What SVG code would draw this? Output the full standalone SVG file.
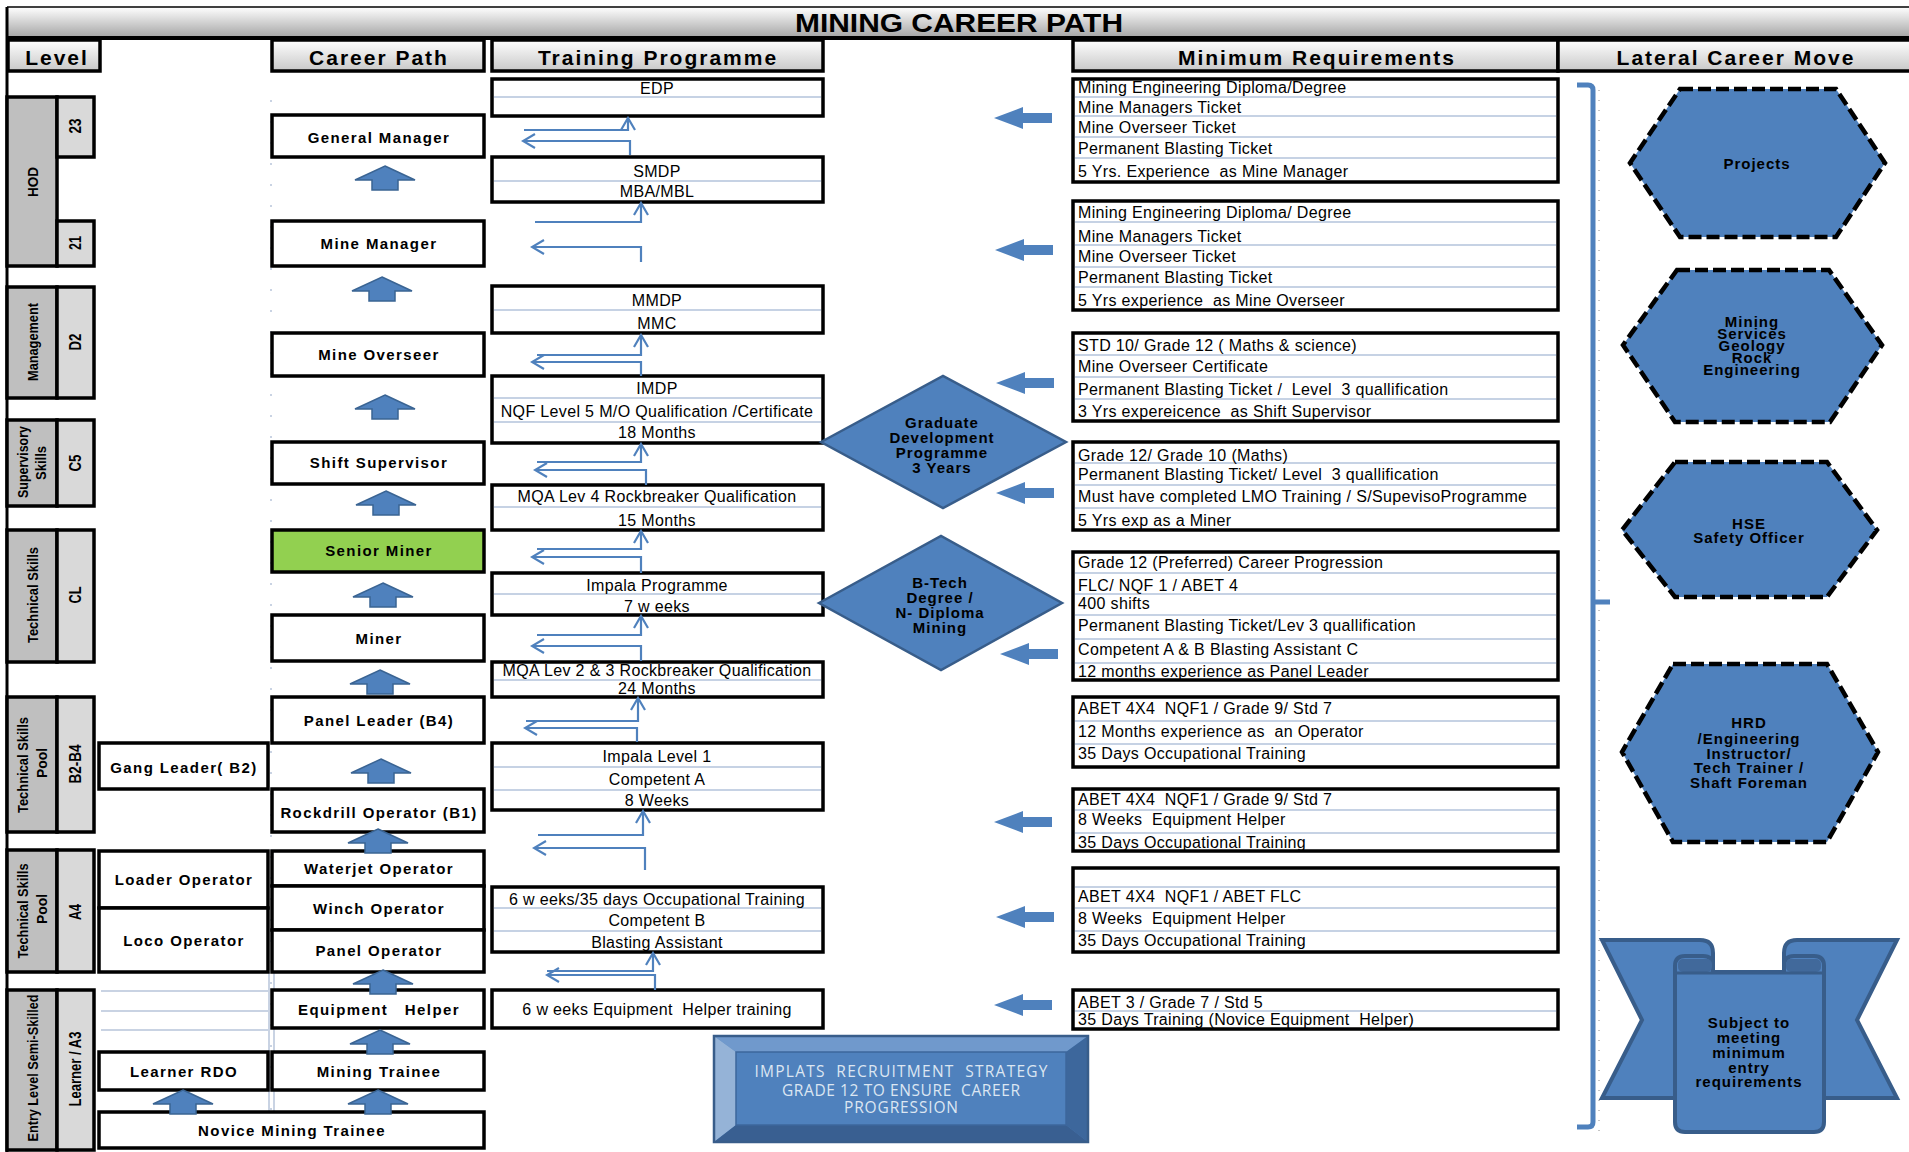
<svg xmlns="http://www.w3.org/2000/svg" width="1909" height="1152" viewBox="0 0 1909 1152">
<style>
.box{fill:#fff;stroke:#000;stroke-width:3.5}
.green{fill:#92d050;stroke:#000;stroke-width:3.5}
.lvl{fill:#bfbfbf;stroke:#000;stroke-width:3.5}
.num{fill:#d9d9d9;stroke:#000;stroke-width:3.5}
.hdr{fill:url(#gHead);stroke:#000;stroke-width:3.5}
.dv{stroke:#c6d2e4;stroke-width:2}
.grid{stroke:#c9d3e3;stroke-width:2;fill:none}
.t{font-family:"Liberation Sans",Arial,sans-serif;dominant-baseline:central}
.cp{font-weight:bold;font-size:15px;letter-spacing:1.4px;text-anchor:middle}
.tp{font-size:16px;letter-spacing:0.35px;text-anchor:middle}
.rq{font-size:16px;letter-spacing:0.35px;white-space:pre}
.hd{font-weight:bold;font-size:21px;letter-spacing:2px;text-anchor:middle}
.vt{font-family:"Liberation Sans",Arial,sans-serif;font-weight:bold;font-size:15px;text-anchor:middle;dominant-baseline:central}
.vn{font-size:16px}
.bl{fill:#4f81bd}
.ua{fill:#4f81bd;stroke:#3a6493;stroke-width:1.5}
.conn{fill:none;stroke:#4f81bd;stroke-width:2.2}
.hex{fill:#4f81bd;stroke:#000;stroke-width:4.5;stroke-dasharray:13 5}
.dia{fill:#4f81bd;stroke:#385d8a;stroke-width:2.5}
.bx{font-weight:bold;font-size:15px;letter-spacing:1px;text-anchor:middle;fill:#000}
.ban{fill:#4f81bd;stroke:#385d8a;stroke-width:4}
</style>
<defs>
<linearGradient id="gTitle" x1="0" y1="0" x2="0" y2="1"><stop offset="0" stop-color="#ffffff"/><stop offset="1" stop-color="#a3a3a3"/></linearGradient>
<linearGradient id="gHead" x1="0" y1="0" x2="0" y2="1"><stop offset="0" stop-color="#ffffff"/><stop offset="1" stop-color="#c8c8c8"/></linearGradient>
<marker id="chev" markerUnits="userSpaceOnUse" markerWidth="16" markerHeight="18" viewBox="0 0 16 18" refX="14" refY="9" orient="auto"><path d="M2,2 L14,9 L2,16" fill="none" stroke="#4f81bd" stroke-width="2.2"/></marker>
<path id="bla" d="M0,0 L29,-11 L29,-5 L58,-5 L58,5 L29,5 L29,11 Z"/>
<path id="upa" d="M0,0 L30,14 L13,14 L13,24 L-13,24 L-13,14 L-30,14 Z"/>
</defs>
<rect width="1909" height="1152" fill="#fff"/>

<!-- title & headers -->
<g id="title">
<rect x="7" y="7" width="1902" height="31" fill="url(#gTitle)"/>
<line x1="7" y1="7" x2="1909" y2="7" stroke="#000" stroke-width="1.5"/>
<line x1="7" y1="38" x2="1909" y2="38" stroke="#000" stroke-width="4"/>
<text class="t" x="959" y="23" font-weight="bold" font-size="25" text-anchor="middle" textLength="328" lengthAdjust="spacingAndGlyphs">MINING CAREER PATH</text>
</g>
<line x1="7" y1="7" x2="7" y2="1152" stroke="#000" stroke-width="3"/>
<g id="headers">
<rect class="hdr" x="8" y="40" width="92" height="31"/>
<text class="t hd" x="57" y="57">Level</text>
<rect class="hdr" x="272" y="40" width="212" height="31"/>
<text class="t hd" x="379" y="57">Career Path</text>
<rect class="hdr" x="492" y="40" width="331" height="31"/>
<text class="t hd" x="658" y="57">Training Programme</text>
<rect class="hdr" x="1073" y="40" width="485" height="31"/>
<text class="t hd" x="1317" y="57">Minimum Requirements</text>
<rect class="hdr" x="1558" y="40" width="353" height="31"/>
<text class="t hd" x="1736" y="57">Lateral Career Move</text>
</g>

<!-- faint grid remnants -->
<g id="gridlines">
<line class="grid" x1="271" y1="100" x2="271" y2="1110" stroke-width="6" stroke-dasharray="2 19"/>
<line class="grid" x1="101" y1="991" x2="270" y2="991"/>
<line class="grid" x1="101" y1="1011" x2="270" y2="1011"/>
<line class="grid" x1="101" y1="1030" x2="270" y2="1030"/>
<line class="grid" x1="269" y1="972" x2="269" y2="1112"/>
<line class="grid" x1="274" y1="972" x2="274" y2="1112"/>
<line x1="1599" y1="90" x2="1599" y2="1132" stroke="#8a8a8a" stroke-width="1" stroke-dasharray="1 9"/>
</g>

<!-- Level column -->
<g id="level-hod">
<rect class="lvl" x="7" y="97" width="50" height="169"/>
<rect class="num" x="57" y="97" width="37" height="60"/>
<rect class="num" x="57" y="221" width="37" height="45"/>
<text class="vt" transform="translate(32,182) rotate(-90)" textLength="30" lengthAdjust="spacingAndGlyphs">HOD</text>
<text class="vt vn" transform="translate(75,126) rotate(-90)" textLength="15" lengthAdjust="spacingAndGlyphs">23</text>
<text class="vt vn" transform="translate(75,243) rotate(-90)" textLength="14" lengthAdjust="spacingAndGlyphs">21</text>
</g>
<g id="level-management">
<rect class="lvl" x="7" y="287" width="50" height="111"/>
<rect class="num" x="57" y="287" width="37" height="111"/>
<text class="vt" transform="translate(32,342) rotate(-90)" textLength="78" lengthAdjust="spacingAndGlyphs">Management</text>
<text class="vt vn" transform="translate(75,342) rotate(-90)" textLength="17" lengthAdjust="spacingAndGlyphs">D2</text>
</g>
<g id="level-supervisory">
<rect class="lvl" x="7" y="420" width="50" height="86"/>
<rect class="num" x="57" y="420" width="37" height="86"/>
<text class="vt" transform="translate(22,462) rotate(-90)" textLength="72" lengthAdjust="spacingAndGlyphs">Supervisory</text>
<text class="vt" transform="translate(40,463) rotate(-90)" textLength="34" lengthAdjust="spacingAndGlyphs">Skills</text>
<text class="vt vn" transform="translate(75,463) rotate(-90)" textLength="17" lengthAdjust="spacingAndGlyphs">C5</text>
</g>
<g id="level-technical">
<rect class="lvl" x="7" y="530" width="50" height="132"/>
<rect class="num" x="57" y="530" width="37" height="132"/>
<text class="vt" transform="translate(32,595) rotate(-90)" textLength="96" lengthAdjust="spacingAndGlyphs">Technical Skills</text>
<text class="vt vn" transform="translate(75,595) rotate(-90)" textLength="17" lengthAdjust="spacingAndGlyphs">CL</text>
</g>
<g id="level-tsp-b">
<rect class="lvl" x="7" y="697" width="50" height="135"/>
<rect class="num" x="57" y="697" width="37" height="135"/>
<text class="vt" transform="translate(22,765) rotate(-90)" textLength="96" lengthAdjust="spacingAndGlyphs">Technical Skills</text>
<text class="vt" transform="translate(41,763) rotate(-90)" textLength="30" lengthAdjust="spacingAndGlyphs">Pool</text>
<text class="vt vn" transform="translate(75,764) rotate(-90)" textLength="39" lengthAdjust="spacingAndGlyphs">B2-B4</text>
</g>
<g id="level-tsp-a">
<rect class="lvl" x="7" y="850" width="50" height="122"/>
<rect class="num" x="57" y="850" width="37" height="122"/>
<text class="vt" transform="translate(22,911) rotate(-90)" textLength="95" lengthAdjust="spacingAndGlyphs">Technical Skills</text>
<text class="vt" transform="translate(41,909) rotate(-90)" textLength="30" lengthAdjust="spacingAndGlyphs">Pool</text>
<text class="vt vn" transform="translate(75,912) rotate(-90)" textLength="16" lengthAdjust="spacingAndGlyphs">A4</text>
</g>
<g id="level-entry">
<rect class="lvl" x="7" y="990" width="50" height="160"/>
<rect class="num" x="57" y="990" width="37" height="160"/>
<text class="vt" transform="translate(32,1068) rotate(-90)" textLength="147" lengthAdjust="spacingAndGlyphs">Entry Level Semi-Skilled</text>
<text class="vt vn" transform="translate(75,1069) rotate(-90)" textLength="75" lengthAdjust="spacingAndGlyphs">Learner / A3</text>
</g>

<!-- Career path nodes -->
<g id="cp-general-manager"><rect class="box" x="272" y="115" width="212" height="42"/><text class="t cp" x="379" y="137">General Manager</text></g>
<g id="cp-mine-manager"><rect class="box" x="272" y="221" width="212" height="45"/><text class="t cp" x="379" y="243">Mine Manager</text></g>
<g id="cp-mine-overseer"><rect class="box" x="272" y="333" width="212" height="43"/><text class="t cp" x="379" y="354">Mine Overseer</text></g>
<g id="cp-shift-supervisor"><rect class="box" x="272" y="442" width="212" height="42"/><text class="t cp" x="379" y="462">Shift Supervisor</text></g>
<g id="cp-senior-miner"><rect class="green" x="272" y="530" width="212" height="42"/><text class="t cp" x="379" y="550">Senior Miner</text></g>
<g id="cp-miner"><rect class="box" x="272" y="615" width="212" height="46"/><text class="t cp" x="379" y="638">Miner</text></g>
<g id="cp-panel-leader"><rect class="box" x="272" y="697" width="212" height="46"/><text class="t cp" x="379" y="720">Panel Leader (B4)</text></g>
<g id="cp-gang-leader"><rect class="box" x="99" y="743" width="169" height="46"/><text class="t cp" x="184" y="767">Gang Leader( B2)</text></g>
<g id="cp-rockdrill"><rect class="box" x="272" y="789" width="212" height="43"/><text class="t cp" x="379" y="812">Rockdrill Operator (B1)</text></g>
<g id="cp-waterjet"><rect class="box" x="272" y="851" width="212" height="35"/><text class="t cp" x="379" y="868">Waterjet Operator</text></g>
<g id="cp-winch"><rect class="box" x="272" y="886" width="212" height="44"/><text class="t cp" x="379" y="908">Winch Operator</text></g>
<g id="cp-panel-operator"><rect class="box" x="272" y="930" width="212" height="42"/><text class="t cp" x="379" y="950">Panel Operator</text></g>
<g id="cp-loader"><rect class="box" x="99" y="851" width="169" height="57"/><text class="t cp" x="184" y="879">Loader Operator</text></g>
<g id="cp-loco"><rect class="box" x="99" y="908" width="169" height="64"/><text class="t cp" x="184" y="940">Loco Operator</text></g>
<g id="cp-equipment-helper"><rect class="box" x="272" y="990" width="212" height="38"/><text class="t cp" x="379" y="1009" xml:space="preserve">Equipment   Helper</text></g>
<g id="cp-mining-trainee"><rect class="box" x="272" y="1052" width="212" height="38"/><text class="t cp" x="379" y="1071">Mining Trainee</text></g>
<g id="cp-learner-rdo"><rect class="box" x="99" y="1052" width="169" height="38"/><text class="t cp" x="184" y="1071">Learner RDO</text></g>
<g id="cp-novice"><rect class="box" x="99" y="1112" width="385" height="36"/><text class="t cp" x="292" y="1130">Novice Mining Trainee</text></g>

<!-- Training programme nodes -->
<g id="tp-edp"><rect class="box" x="492" y="79" width="331" height="37"/><line class="dv" x1="494" y1="97" x2="821" y2="97"/><text class="t tp" x="657" y="88">EDP</text></g>
<g id="tp-smdp"><rect class="box" x="492" y="157" width="331" height="45"/><line class="dv" x1="494" y1="181" x2="821" y2="181"/><text class="t tp" x="657" y="171">SMDP</text><text class="t tp" x="657" y="191">MBA/MBL</text></g>
<g id="tp-mmdp"><rect class="box" x="492" y="286" width="331" height="47"/><line class="dv" x1="494" y1="310" x2="821" y2="310"/><text class="t tp" x="657" y="300">MMDP</text><text class="t tp" x="657" y="323">MMC</text></g>
<g id="tp-imdp"><rect class="box" x="492" y="376" width="331" height="67"/><line class="dv" x1="494" y1="398" x2="821" y2="398"/><line class="dv" x1="494" y1="422" x2="821" y2="422"/><text class="t tp" x="657" y="388">IMDP</text><text class="t tp" x="657" y="411">NQF Level 5 M/O Qualification /Certificate</text><text class="t tp" x="657" y="432">18 Months</text></g>
<g id="tp-mqa4"><rect class="box" x="492" y="485" width="331" height="45"/><line class="dv" x1="494" y1="507" x2="821" y2="507"/><text class="t tp" x="657" y="496">MQA Lev 4 Rockbreaker Qualification</text><text class="t tp" x="657" y="520">15 Months</text></g>
<g id="tp-impala-programme"><rect class="box" x="492" y="573" width="331" height="42"/><line class="dv" x1="494" y1="594" x2="821" y2="594"/><text class="t tp" x="657" y="585">Impala Programme</text><text class="t tp" x="657" y="606">7 w eeks</text></g>
<g id="tp-mqa23"><rect class="box" x="492" y="662" width="331" height="35"/><line class="dv" x1="494" y1="680" x2="821" y2="680"/><text class="t tp" x="657" y="670">MQA Lev 2 &amp; 3 Rockbreaker Qualification</text><text class="t tp" x="657" y="688">24 Months</text></g>
<g id="tp-impala-l1"><rect class="box" x="492" y="743" width="331" height="67"/><line class="dv" x1="494" y1="767" x2="821" y2="767"/><line class="dv" x1="494" y1="790" x2="821" y2="790"/><text class="t tp" x="657" y="756">Impala Level 1</text><text class="t tp" x="657" y="779">Competent A</text><text class="t tp" x="657" y="800">8 Weeks</text></g>
<g id="tp-occupational"><rect class="box" x="492" y="887" width="331" height="65"/><line class="dv" x1="494" y1="908" x2="821" y2="908"/><line class="dv" x1="494" y1="931" x2="821" y2="931"/><text class="t tp" x="657" y="899">6 w eeks/35 days Occupational Training</text><text class="t tp" x="657" y="920">Competent B</text><text class="t tp" x="657" y="942">Blasting Assistant</text></g>
<g id="tp-eh-training"><rect class="box" x="492" y="990" width="331" height="38"/><text class="t tp" x="657" y="1009" xml:space="preserve">6 w eeks Equipment  Helper training</text></g>

<!-- Minimum requirement nodes -->
<g id="req-1" xml:space="preserve">
<rect class="box" x="1073" y="79" width="485" height="103"/>
<line class="dv" x1="1075" y1="97" x2="1556" y2="97"/><line class="dv" x1="1075" y1="116" x2="1556" y2="116"/><line class="dv" x1="1075" y1="137" x2="1556" y2="137"/><line class="dv" x1="1075" y1="158" x2="1556" y2="158"/>
<text class="t rq" x="1078" y="87">Mining Engineering Diploma/Degree</text>
<text class="t rq" x="1078" y="107">Mine Managers Ticket</text>
<text class="t rq" x="1078" y="127">Mine Overseer Ticket</text>
<text class="t rq" x="1078" y="148">Permanent Blasting Ticket</text>
<text class="t rq" x="1078" y="171">5 Yrs. Experience  as Mine Manager</text>
</g>
<g id="req-2" xml:space="preserve">
<rect class="box" x="1073" y="201" width="485" height="109"/>
<line class="dv" x1="1075" y1="222" x2="1556" y2="222"/><line class="dv" x1="1075" y1="245" x2="1556" y2="245"/><line class="dv" x1="1075" y1="267" x2="1556" y2="267"/><line class="dv" x1="1075" y1="287" x2="1556" y2="287"/>
<text class="t rq" x="1078" y="212">Mining Engineering Diploma/ Degree</text>
<text class="t rq" x="1078" y="236">Mine Managers Ticket</text>
<text class="t rq" x="1078" y="256">Mine Overseer Ticket</text>
<text class="t rq" x="1078" y="277">Permanent Blasting Ticket</text>
<text class="t rq" x="1078" y="300">5 Yrs experience  as Mine Overseer</text>
</g>
<g id="req-3" xml:space="preserve">
<rect class="box" x="1073" y="333" width="485" height="88"/>
<line class="dv" x1="1075" y1="355" x2="1556" y2="355"/><line class="dv" x1="1075" y1="377" x2="1556" y2="377"/><line class="dv" x1="1075" y1="399" x2="1556" y2="399"/>
<text class="t rq" x="1078" y="345">STD 10/ Grade 12 ( Maths &amp; science)</text>
<text class="t rq" x="1078" y="366">Mine Overseer Certificate</text>
<text class="t rq" x="1078" y="389">Permanent Blasting Ticket /  Level  3 quallification</text>
<text class="t rq" x="1078" y="411">3 Yrs expereicence  as Shift Supervisor</text>
</g>
<g id="req-4" xml:space="preserve">
<rect class="box" x="1073" y="442" width="485" height="88"/>
<line class="dv" x1="1075" y1="463" x2="1556" y2="463"/><line class="dv" x1="1075" y1="485" x2="1556" y2="485"/><line class="dv" x1="1075" y1="508" x2="1556" y2="508"/>
<text class="t rq" x="1078" y="455">Grade 12/ Grade 10 (Maths)</text>
<text class="t rq" x="1078" y="474">Permanent Blasting Ticket/ Level  3 quallification</text>
<text class="t rq" x="1078" y="496">Must have completed LMO Training / S/SupevisoProgramme</text>
<text class="t rq" x="1078" y="520">5 Yrs exp as a Miner</text>
</g>
<g id="req-5" xml:space="preserve">
<rect class="box" x="1073" y="552" width="485" height="128"/>
<line class="dv" x1="1075" y1="573" x2="1556" y2="573"/><line class="dv" x1="1075" y1="594" x2="1556" y2="594"/><line class="dv" x1="1075" y1="615" x2="1556" y2="615"/><line class="dv" x1="1075" y1="639" x2="1556" y2="639"/><line class="dv" x1="1075" y1="663" x2="1556" y2="663"/>
<text class="t rq" x="1078" y="562">Grade 12 (Preferred) Career Progression</text>
<text class="t rq" x="1078" y="585">FLC/ NQF 1 / ABET 4</text>
<text class="t rq" x="1078" y="603">400 shifts</text>
<text class="t rq" x="1078" y="625">Permanent Blasting Ticket/Lev 3 quallification</text>
<text class="t rq" x="1078" y="649">Competent A &amp; B Blasting Assistant C</text>
<text class="t rq" x="1078" y="671">12 months experience as Panel Leader</text>
</g>
<g id="req-6" xml:space="preserve">
<rect class="box" x="1073" y="697" width="485" height="70"/>
<line class="dv" x1="1075" y1="721" x2="1556" y2="721"/><line class="dv" x1="1075" y1="744" x2="1556" y2="744"/>
<text class="t rq" x="1078" y="708">ABET 4X4  NQF1 / Grade 9/ Std 7</text>
<text class="t rq" x="1078" y="731">12 Months experience as  an Operator</text>
<text class="t rq" x="1078" y="753">35 Days Occupational Training</text>
</g>
<g id="req-7" xml:space="preserve">
<rect class="box" x="1073" y="789" width="485" height="62"/>
<line class="dv" x1="1075" y1="810" x2="1556" y2="810"/><line class="dv" x1="1075" y1="833" x2="1556" y2="833"/>
<text class="t rq" x="1078" y="799">ABET 4X4  NQF1 / Grade 9/ Std 7</text>
<text class="t rq" x="1078" y="819">8 Weeks  Equipment Helper</text>
<text class="t rq" x="1078" y="842">35 Days Occupational Training</text>
</g>
<g id="req-8" xml:space="preserve">
<rect class="box" x="1073" y="868" width="485" height="84"/>
<line class="dv" x1="1075" y1="887" x2="1556" y2="887"/><line class="dv" x1="1075" y1="908" x2="1556" y2="908"/><line class="dv" x1="1075" y1="931" x2="1556" y2="931"/>
<text class="t rq" x="1078" y="896">ABET 4X4  NQF1 / ABET FLC</text>
<text class="t rq" x="1078" y="918">8 Weeks  Equipment Helper</text>
<text class="t rq" x="1078" y="940">35 Days Occupational Training</text>
</g>
<g id="req-9" xml:space="preserve">
<rect class="box" x="1073" y="990" width="485" height="39"/>
<line class="dv" x1="1075" y1="1011" x2="1556" y2="1011"/>
<text class="t rq" x="1078" y="1002">ABET 3 / Grade 7 / Std 5</text>
<text class="t rq" x="1078" y="1019">35 Days Training (Novice Equipment  Helper)</text>
</g>

<!-- Diamonds -->
<g id="graduate-programme">
<polygon class="dia" points="821,442 943,376 1066,442 943,508"/>
<text class="t bx" x="942" y="422">Graduate</text>
<text class="t bx" x="942" y="437">Development</text>
<text class="t bx" x="942" y="452">Programme</text>
<text class="t bx" x="942" y="467">3 Years</text>
</g>
<g id="btech">
<polygon class="dia" points="819,603 941,536 1062,603 941,670"/>
<text class="t bx" x="940" y="582">B-Tech</text>
<text class="t bx" x="940" y="597">Degree /</text>
<text class="t bx" x="940" y="612">N- Diploma</text>
<text class="t bx" x="940" y="627">Mining</text>
</g>

<!-- Implats box -->
<g id="implats-strategy">
<rect x="714" y="1036" width="374" height="106" fill="#4f81bd" stroke="#385d8a" stroke-width="2"/>
<polygon points="714,1036 1088,1036 1066,1052 736,1052" fill="#7099cc"/>
<polygon points="714,1036 736,1052 736,1125 714,1142" fill="#95b3d7"/>
<polygon points="1088,1036 1066,1052 1066,1125 1088,1142" fill="#3d679c"/>
<polygon points="714,1142 736,1125 1066,1125 1088,1142" fill="#395f91"/>
<rect x="736" y="1052" width="330" height="73" fill="#4f81bd" stroke="#3d679c" stroke-width="1.5"/>
<rect x="714" y="1036" width="374" height="106" fill="none" stroke="#385d8a" stroke-width="2.5"/>
<g font-family="'Open Sans','Liberation Sans',sans-serif" font-size="15.5" fill="#dce6f2" text-anchor="middle">
<text x="901" y="1077" textLength="293" lengthAdjust="spacing" xml:space="preserve">IMPLATS  RECRUITMENT  STRATEGY</text>
<text x="901" y="1096" textLength="238" lengthAdjust="spacing" xml:space="preserve">GRADE 12 TO ENSURE  CAREER</text>
<text x="901" y="1113" textLength="114" lengthAdjust="spacing">PROGRESSION</text>
</g>
</g>

<!-- Lateral moves -->
<g id="lat-projects">
<polygon class="hex" points="1680,89 1836,89 1885,163 1836,237 1680,237 1630,163"/>
<text class="t bx" x="1757" y="163">Projects</text>
</g>
<g id="lat-mining-services">
<polygon class="hex" points="1677,270 1829,270 1882,345 1830,422 1675,422 1623,345"/>
<g font-size="14">
<text class="t bx" x="1752" y="321">Mining</text>
<text class="t bx" x="1752" y="333">Services</text>
<text class="t bx" x="1752" y="345">Geology</text>
<text class="t bx" x="1752" y="357">Rock</text>
<text class="t bx" x="1752" y="369">Engineering</text>
</g>
</g>
<g id="lat-hse">
<polygon class="hex" points="1675,462 1827,462 1877,530 1827,597 1675,597 1622,530"/>
<text class="t bx" x="1749" y="523">HSE</text>
<text class="t bx" x="1749" y="537">Safety Officer</text>
</g>
<g id="lat-hrd">
<polygon class="hex" points="1673,664 1827,664 1878,752 1827,842 1673,842 1622,752"/>
<text class="t bx" x="1749" y="722">HRD</text>
<text class="t bx" x="1749" y="738">/Engineering</text>
<text class="t bx" x="1749" y="753">Instructor/</text>
<text class="t bx" x="1749" y="767">Tech Trainer /</text>
<text class="t bx" x="1749" y="782">Shaft Foreman</text>
</g>
<g id="entry-banner">
<path class="ban" d="M1602,940 H1700 Q1713,940 1713,953 V1098 H1602 L1642,1020 Z"/>
<path class="ban" d="M1897,940 H1797 Q1784,940 1784,953 V1098 H1897 L1857,1020 Z"/>
<path class="ban" d="M1675,966 Q1675,956 1685,956 H1703 Q1713,956 1713,966 V972 H1784 V966 Q1784,956 1794,956 H1814 Q1824,956 1824,966 V1122 Q1824,1132 1814,1132 H1685 Q1675,1132 1675,1122 Z"/>
<rect x="1678" y="959" width="34" height="13" rx="5" fill="#41699b"/>
<rect x="1786" y="959" width="35" height="13" rx="5" fill="#41699b"/>
<line x1="1676" y1="973" x2="1823" y2="973" stroke="#385d8a" stroke-width="3"/>
<g font-size="14">
<text class="t bx" x="1749" y="1022">Subject to</text>
<text class="t bx" x="1749" y="1037">meeting</text>
<text class="t bx" x="1749" y="1052">minimum</text>
<text class="t bx" x="1749" y="1067">entry</text>
<text class="t bx" x="1749" y="1081">requirements</text>
</g>
</g>

<!-- Connectors -->
<g id="connectors">
<g class="conn" marker-end="url(#chev)">
<path d="M524,130 H628 V118"/><path d="M630,155 V141 H523"/>
<path d="M535,222 H641 V203"/><path d="M641,262 V247 H532"/>
<path d="M537,355 H641 V335"/><path d="M641,376 V362 H532"/>
<path d="M537,462 H641 V444"/><path d="M646,485 V470 H535"/>
<path d="M537,549 H641 V531"/><path d="M641,573 V557 H532"/>
<path d="M537,635 H641 V616"/><path d="M641,661 V646 H532"/>
<path d="M526,721 H638 V698"/><path d="M637,742 V728 H525"/>
<path d="M538,835 H643 V811"/><path d="M645,870 V848 H534"/>
<path d="M547,971 H653 V953"/><path d="M655,990 V975 H547"/>
</g>
<g class="ua">
<use href="#upa" x="385" y="166"/>
<use href="#upa" x="382" y="277"/>
<use href="#upa" x="385" y="395"/>
<use href="#upa" x="386" y="491"/>
<use href="#upa" x="383" y="583"/>
<use href="#upa" x="380" y="670"/>
<use href="#upa" x="381" y="759"/>
<use href="#upa" x="378" y="829"/>
<use href="#upa" x="383" y="970"/>
<use href="#upa" x="380" y="1030"/>
<use href="#upa" x="183" y="1090"/>
<use href="#upa" x="378" y="1090"/>
</g>
<g class="bl">
<use href="#bla" x="994" y="118"/>
<use href="#bla" x="995" y="250"/>
<use href="#bla" x="996" y="383"/>
<use href="#bla" x="996" y="493"/>
<use href="#bla" x="1000" y="654"/>
<use href="#bla" x="994" y="822"/>
<use href="#bla" x="996" y="917"/>
<use href="#bla" x="994" y="1005"/>
</g>
<path d="M1577,85 H1588 Q1593,85 1593,90 V1122 Q1593,1127 1588,1127 H1577 M1593,602 H1610" fill="none" stroke="#4f81bd" stroke-width="5"/>
</g>
</svg>
